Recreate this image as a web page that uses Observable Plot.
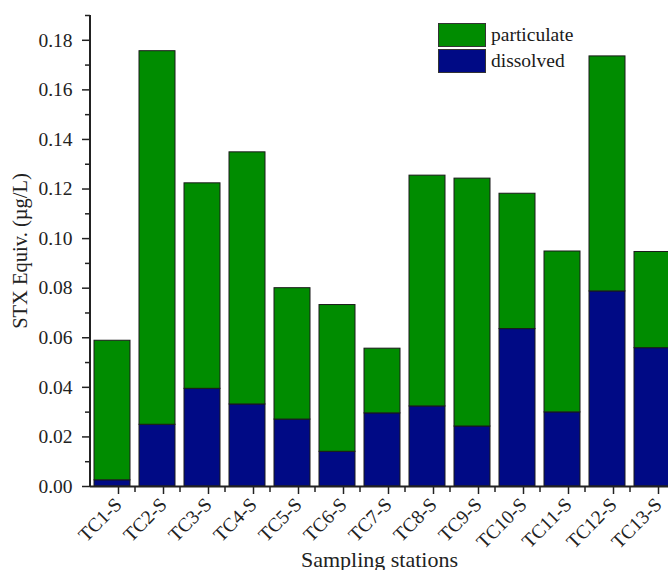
<!DOCTYPE html>
<html>
<head>
<meta charset="utf-8">
<script src="https://cdn.jsdelivr.net/npm/d3@7"></script>
<script src="https://cdn.jsdelivr.net/npm/@observablehq/plot@0.6"></script>
<style>
  html, body { margin: 0; padding: 0; background: #fff; }
  #chart { position: relative; width: 668px; height: 570px; overflow: hidden; font-family: "Liberation Serif", serif; }
  #chart svg { display: block; }
  .legend { position: absolute; left: 438px; top: 22px; font-size: 19.5px; color: #1a1a1a; }
  .legend .row { display: flex; align-items: center; height: 26px; }
  .legend .sw { width: 48px; height: 24px; border: 1px solid #333; box-sizing: border-box; margin-right: 5px; }
</style>
</head>
<body>
<div id="chart"></div>
<script>
// Sampling stations along the transect
const stations = ["TC1-S", "TC2-S", "TC3-S", "TC4-S", "TC5-S", "TC6-S", "TC7-S",
                  "TC8-S", "TC9-S", "TC10-S", "TC11-S", "TC12-S", "TC13-S"];

// STX equivalents (µg/L) in the dissolved fraction
const dissolved = [0.0025, 0.0249, 0.0394, 0.0331, 0.0270, 0.0140, 0.0295,
                   0.0323, 0.0242, 0.0635, 0.0299, 0.0787, 0.0558];

// STX equivalents (µg/L) in the particulate fraction
const particulate = [0.0563, 0.1507, 0.0829, 0.1017, 0.0530, 0.0592, 0.0261,
                     0.0931, 0.1000, 0.0546, 0.0649, 0.0948, 0.0388];

// Fractions, in stacking order (bottom first), and their fills
const fractions = ["dissolved", "particulate"];
const fractionColors = ["#000a85", "#008c00"];

// Y axis ticks
const yMajorTicks = [0.00, 0.02, 0.04, 0.06, 0.08, 0.10, 0.12, 0.14, 0.16, 0.18];
const yMinorTicks = [0.01, 0.03, 0.05, 0.07, 0.09, 0.11, 0.13, 0.15, 0.17, 0.19];

const rows = stations.flatMap((station, i) => [
  {station, fraction: "dissolved", value: dissolved[i]},
  {station, fraction: "particulate", value: particulate[i]}
]);

const W = 668, H = 570;
const xRange = [89.5, 674.5];           // the last band runs past the right edge
const step = (xRange[1] - xRange[0]) / stations.length;
const ink = "#222";

const chart = Plot.plot({
  width: W,
  height: H,
  marginLeft: 90,
  marginTop: 15,
  marginBottom: 84,
  marginRight: 0,
  style: {fontFamily: "'Liberation Serif', serif", fontSize: "19px", color: ink, background: "white", overflow: "hidden"},
  x: {domain: stations, range: xRange, paddingInner: 0.2, paddingOuter: 0.1},
  y: {domain: [0, 0.19]},
  color: {domain: fractions, range: fractionColors},
  marks: [
    Plot.barY(rows, {x: "station", y: "value", fill: "fraction", stroke: "#1a1a1a", strokeWidth: 1}),
    // minor ticks at the band boundaries
    Plot.ruleX(stations, {x: d => d, dx: step / 2, stroke: ink, strokeWidth: 1.5,
                          insetTop: H - 15 - 84, insetBottom: -6}),
    // axis lines
    Plot.ruleY([0], {stroke: ink, strokeWidth: 2}),
    Plot.ruleX([stations[0]], {dx: -step / 2, y1: 0, y2: 0.19, stroke: ink, strokeWidth: 2}),
    // y axis
    Plot.axisY({ticks: yMinorTicks, tickSize: 5, tickFormat: () => "", label: null,
                stroke: ink, strokeWidth: 1.5}),
    Plot.axisY({ticks: yMajorTicks, tickSize: 8, tickPadding: 10, tickFormat: d3.format(".2f"),
                stroke: ink, strokeWidth: 1.5, fontSize: 19.5, label: null}),
    Plot.axisY({ticks: [], fontSize: 20.5,
                label: "STX Equiv. (µg/L)", labelAnchor: "center", labelArrow: "none", labelOffset: 78}),
    // x axis
    Plot.axisX({tickSize: 8, tickRotate: -45, tickPadding: 7, dx: 6, stroke: ink, strokeWidth: 1.5,
                fontSize: 19.5, label: null}),
    Plot.axisX({ticks: [], fontSize: 22,
                label: "Sampling stations", labelAnchor: "center", labelArrow: "none", labelOffset: 80})
  ]
});

const root = document.getElementById("chart");
root.appendChild(chart);

// legend drawn inside the plot area, top right
const legend = document.createElement("div");
legend.className = "legend";
[["particulate", fractionColors[1]], ["dissolved", fractionColors[0]]].forEach(([name, color]) => {
  const row = document.createElement("div");
  row.className = "row";
  const sw = document.createElement("span");
  sw.className = "sw";
  sw.style.background = color;
  const label = document.createElement("span");
  label.textContent = name;
  row.appendChild(sw);
  row.appendChild(label);
  legend.appendChild(row);
});
root.appendChild(legend);
</script>
</body>
</html>
